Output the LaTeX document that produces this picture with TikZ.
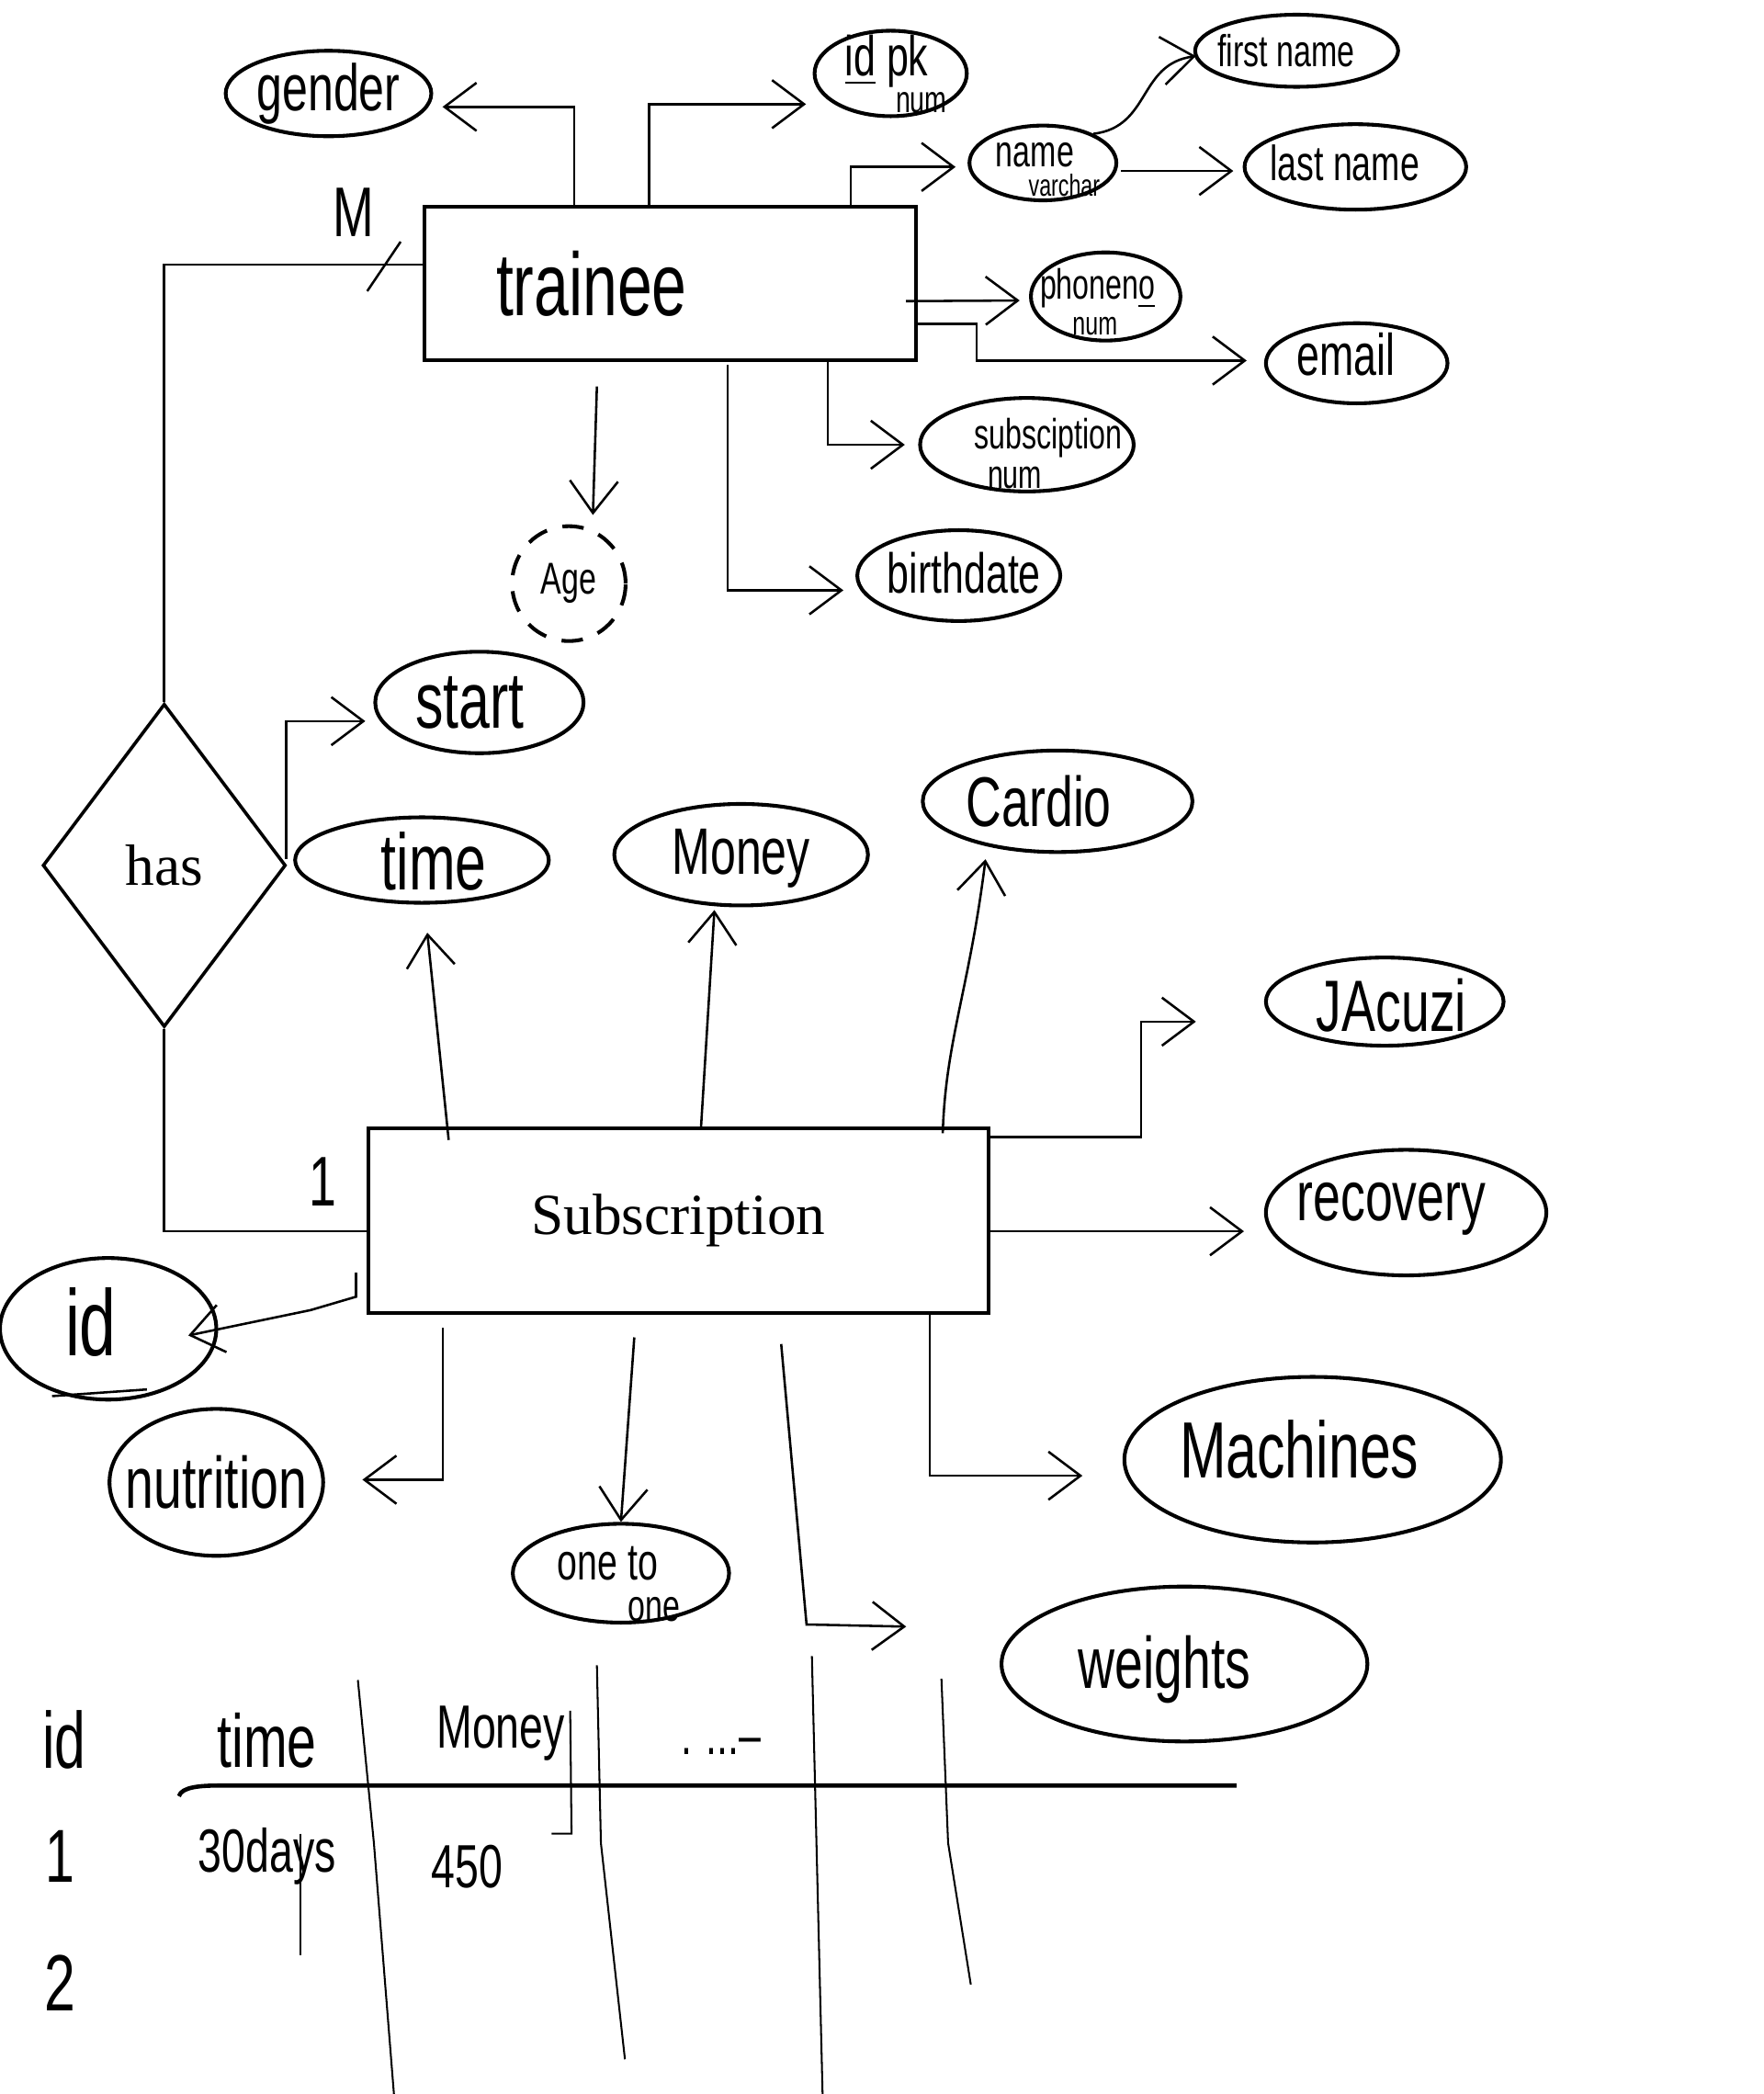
\documentclass[tikz,border=0pt]{standalone}
\usepackage{fontspec}
\setmainfont{Liberation Serif}
\newfontfamily\hand[FakeStretch=0.7]{Liberation Sans}
\usetikzlibrary{shapes.geometric,arrows.meta,calc}

\begin{document}
\begin{tikzpicture}[x=0.1mm,y=-0.1mm]
    \tikzstyle{every node}+=[inner sep=0pt]
    \tikzstyle{entity}=[draw, rectangle, line width=0.8pt]
    \tikzstyle{attr}=[draw, ellipse, line width=0.8pt]
    \tikzstyle{arr}=[line width=0.5pt, -{Straight Barb[length=2.4mm,width=3.6mm]}]
    \tikzset{hw/.style={font=\hand\fontsize{#1}{#1}\selectfont}}
    \useasboundingbox (0,0) rectangle (1321,1568);
    \node [entity, minimum width=36.8mm, minimum height=11.5mm, label={[hw=19,xshift=-5.9mm]center:trainee}] (trainee) at (502,212.5) {};
    \node [entity, minimum width=46.4mm, minimum height=13.8mm, font=\fontsize{12.4}{14}\selectfont] (sub) at (508,914) {Subscription};
    \node [draw, diamond, line width=0.7pt, minimum width=18.2mm, minimum height=24.2mm, font=\fontsize{12.4}{14}\selectfont] (has) at (123,648) {has};
    \node [attr, minimum width=15.4mm, minimum height=6.4mm, label={[hw=14]center:gender}] (gender) at (246,70) {};
    \node [attr, minimum width=11.4mm, minimum height=6.4mm, label={[hw=12,xshift=-0.3mm,yshift=0.9mm]center:\underline{id} pk}, label={[hw=8,xshift=2.3mm,yshift=-2.2mm]center:num}] (idpk) at (667,55) {};
    \node [attr, minimum width=11mm, minimum height=5.6mm, label={[hw=9.5,xshift=-0.6mm,yshift=0.6mm]center:name}, label={[hw=6.5,xshift=1.6mm,yshift=-1.7mm]center:varchar}] (name) at (781,122) {};
    \node [attr, minimum width=15.2mm, minimum height=5.4mm, label={[hw=9.5,xshift=-0.8mm]center:first name}] (first) at (971,38) {};
    \node [attr, minimum width=16.6mm, minimum height=6.4mm, label={[hw=10.5,xshift=-0.8mm,yshift=0.3mm]center:last name}] (last) at (1015,125) {};
    \node [attr, minimum width=11.2mm, minimum height=6.6mm, label={[hw=9,xshift=-0.6mm,yshift=0.6mm]center:phonen\underline{o}}, label={[hw=7,xshift=-0.8mm,yshift=-2.2mm]center:num}] (phone) at (828,222) {};
    \node [attr, minimum width=13.6mm, minimum height=6mm, label={[hw=12.5,xshift=-0.8mm,yshift=0.7mm]center:email}] (email) at (1016,272) {};
    \node [attr, minimum width=16mm, minimum height=7mm, label={[hw=9,xshift=1.6mm,yshift=0.5mm]center:subsciption}, label={[hw=8.5,xshift=-0.9mm,yshift=-2.5mm]center:num}] (subnum) at (769,333) {};
    \node [attr, minimum width=15.2mm, minimum height=6.8mm, label={[hw=12,xshift=0.4mm,yshift=0.2mm]center:birthdate}] (birth) at (718,431) {};
    \node [attr, dash pattern=on 1.6mm off 1.2mm, minimum width=8.5mm, minimum height=8.6mm, label={[hw=9.5]center:Age}] (age) at (426,437) {};
    \node [attr, minimum width=15.6mm, minimum height=7.6mm, label={[hw=17,xshift=-0.7mm]center:start}] (start) at (359,526) {};
    \node [attr, minimum width=19mm, minimum height=6.4mm, label={[hw=17,xshift=0.9mm,yshift=-0.1mm]center:time}] (time) at (316,644) {};
    \node [attr, minimum width=19mm, minimum height=7.6mm, label={[hw=14,yshift=-0.3mm]center:Money}] (money) at (555,640) {};
    \node [attr, minimum width=20.2mm, minimum height=7.6mm, label={[hw=15,xshift=-1.4mm]center:Cardio}] (cardio) at (792,600) {};
    \node [attr, minimum width=17.8mm, minimum height=6.6mm, label={[hw=15.5,xshift=0.5mm,yshift=-0.3mm]center:JAcuzi}] (jac) at (1037,750) {};
    \node [attr, minimum width=21mm, minimum height=9.4mm, label={[hw=15,xshift=-1.1mm,yshift=0.3mm]center:recovery}] (rec) at (1053,908) {};
    \node [attr, minimum width=28.2mm, minimum height=12.4mm, label={[hw=17,xshift=-1mm,yshift=0.8mm]center:Machines}] (mach) at (983,1093) {};
    \node [attr, minimum width=27.4mm, minimum height=11.6mm, label={[hw=15.5,xshift=-1.5mm,yshift=-0.4mm]center:weights}] (weights) at (887,1246) {};
    \node [attr, minimum width=16.2mm, minimum height=10.6mm, label={[hw=20,xshift=-1.3mm,yshift=0.5mm]center:id}] (subid) at (81,995) {};
    \node [attr, minimum width=16mm, minimum height=11mm, label={[hw=15.5]center:nutrition}] (nutri) at (162,1110) {};
    \node [attr, minimum width=16.2mm, minimum height=7.4mm, label={[hw=11,xshift=-1mm,yshift=0.7mm]center:one to}, label={[hw=9.5,xshift=2.5mm,yshift=-2.7mm]center:one}] (oto) at (465,1178) {};
    \node [hw=15] (cardm) at (265,159) {M};
    \node [hw=15] (cardone) at (242,885) {1};
    \draw [arr] ($(trainee.north)+(-72,0)$) |- ($(gender.east)+(7,10)$);
    \draw [arr] ($(trainee.north)+(-16,0)$) |- ($(idpk.west)+(-5,23)$);
    \draw [arr] ($(trainee.north)+(135,0)$) |- ($(name.west)+(-9,3)$);
    \draw [arr] (name.30) .. controls (862,95) and (852,48) .. ($(first.west)+(2,4)$);
    \draw [arr] ($(name.east)+(2,6)$) -- ($(last.west)+(-7,3)$);
    \draw [arr] ($(trainee.east)+(-9,13)$) -- ($(phone.west)+(-7,3)$);
    \draw [arr] ($(trainee.east)+(0,30)$) -- ++(44,0) |- ($(email.west)+(-13,-2)$);
    \draw [arr] ($(trainee.south)+(118,0)$) |- ($(subnum.west)+(-10,0)$);
    \draw [arr] ($(trainee.south)+(43,2)$) |- ($(birth.west)+(-9,11)$);
    \draw [arr] ($(trainee.south)+(-55,18)$) -- ($(age.north)+(18,-7)$);
    \draw [line width=0.5pt] ($(trainee.west)+(0,-14.5)$) -| (has.north);
    \draw [line width=0.5pt] (300,181) -- (275,218);
    \draw [line width=0.5pt] (has.south) |- ($(sub.west)+(0,8)$);
    \draw [arr] ($(has.east)+(-1,-5)$) |- ($(start.west)+(-6,14)$);
    \draw [arr] ($(sub.north)+(-172,10)$) -- ($(time.south)+(4,21)$);
    \draw [arr] ($(sub.north)+(17,0)$) -- ($(money.south)+(-20,2)$);
    \draw [arr] ($(sub.north)+(198,5)$) .. controls (708,780) and (726,740) .. ($(cardio.south)+(-54,4)$);
    \draw [arr] ($(sub.north east)+(0,8)$) -- ++(113,0) |- ($(jac.west)+(-51,15)$);
    \draw [arr] ($(sub.east)+(0,8)$) -- ($(rec.west)+(-15,14)$);
    \draw [arr] ($(sub.west)+(-8,39)$) -- ++(0,18) -- ++(-34,10) -- ($(subid.center)+(60,5)$);
    \draw [line width=0.5pt] ($(subid.south)+(-42,-4)$) -- ($(subid.south)+(29,-9)$);
    \draw [arr] ($(sub.south west)+(57,10)$) |- ($(nutri.east)+(28,-2)$);
    \draw [arr] ($(sub.south)+(-33,17)$) -- (oto.north);
    \draw [arr] ($(sub.south)+(77,22)$) -- ++(19,210) -- ($(weights.west)+(-70,-28)$);
    \draw [arr] ($(sub.south east)+(-45,0)$) |- ($(mach.west)+(-30,12)$);
    \node [hw=17] (thid) at (48,1303) {id};
    \node [hw=16] (thtime) at (200,1303) {time};
    \node [hw=13] (thmoney) at (375,1298) {Money};
    \node [hw=12] (thmore) at (540,1308) {. ...\textendash};
    \node [hw=16] (rowone) at (45,1390) {1};
    \node [hw=13] (rowtime) at (200,1390) {30days};
    \node [hw=13] (rowmoney) at (350,1398) {450};
    \node [hw=17] (rowtwo) at (45,1485) {2};
    \draw [line width=0.9pt] (134,1345) .. controls (136,1338) and (150,1337) .. (165,1337) -- (926,1337);
    \draw [line width=0.4pt] (268,1258) -- (280,1380) -- (295,1568);
    \draw [line width=0.4pt] (447,1247) -- (450,1380) -- (468,1542);
    \draw [line width=0.4pt] (608,1240) -- (616,1568);
    \draw [line width=0.4pt] (705,1257) -- (710,1380) -- (727,1486);
    \draw [line width=0.4pt] (427,1281) -- (428,1373) -- (413,1373);
    \draw [line width=0.4pt] (225,1373) -- (225,1464);
\end{tikzpicture}
\end{document}
